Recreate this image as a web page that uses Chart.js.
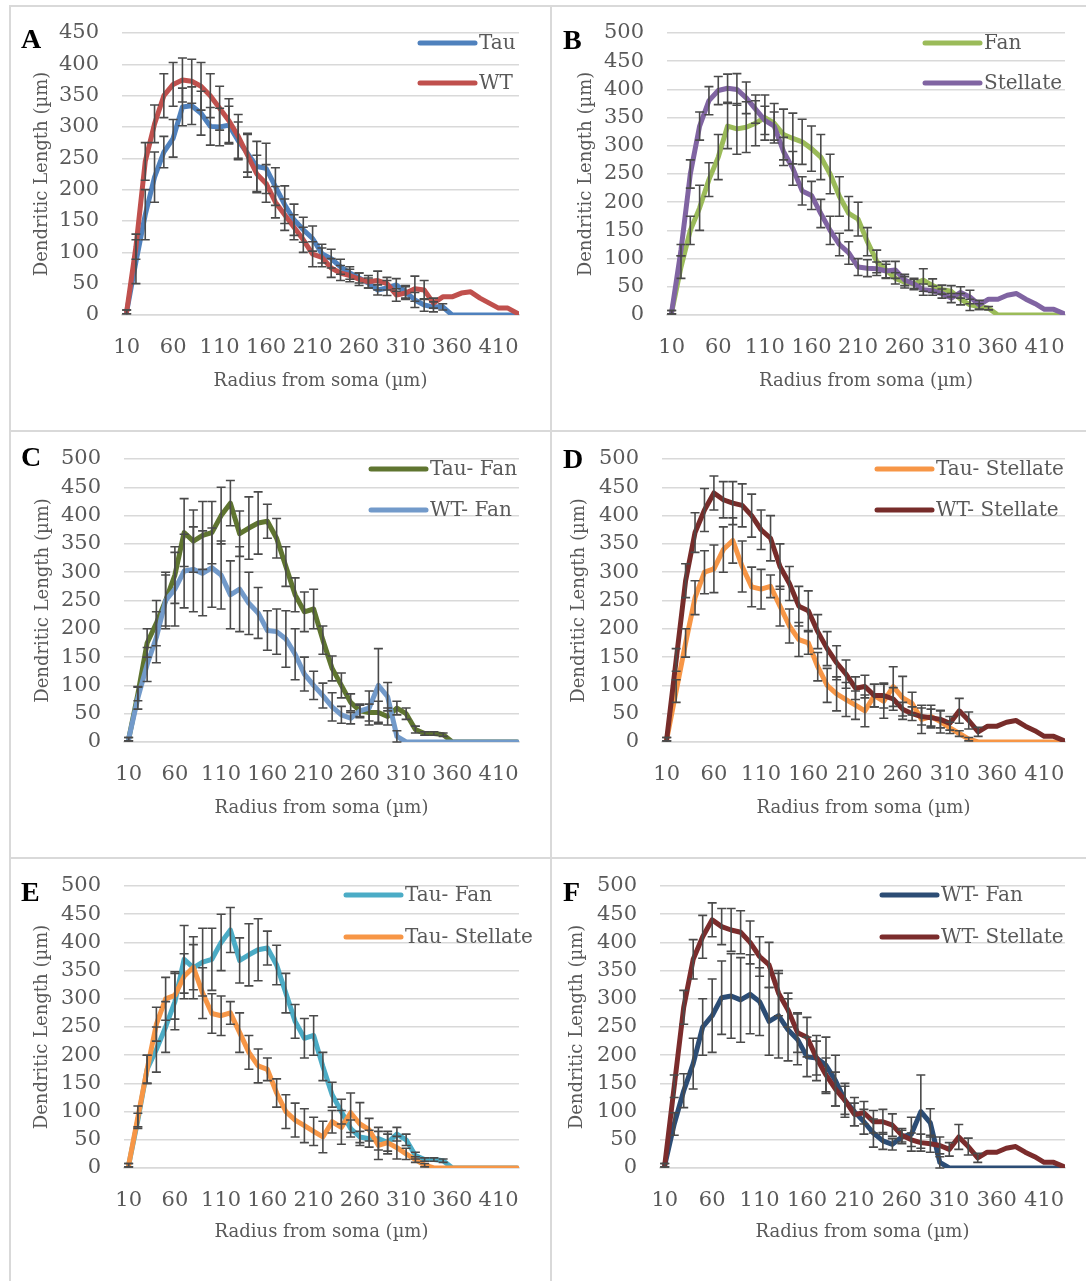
<!DOCTYPE html>
<html>
<head>
<meta charset="utf-8">
<script src="https://cdn.jsdelivr.net/npm/chart.js@4.4.1/dist/chart.umd.min.js"></script>
<style>
body{margin:0;background:#fff;width:1086px;height:1281px;overflow:hidden;position:relative}
.rule{position:absolute;background:#d9d9d9}
.cell{position:absolute}
.cell canvas{position:absolute;left:0;top:0}
.tag{position:absolute;font:bold 28px "Liberation Serif",serif;line-height:28px;color:#000}
</style>
</head>
<body>
<div class="rule" style="left:9px;top:5px;width:1077px;height:2px"></div>
<div class="rule" style="left:9px;top:430px;width:1077px;height:2px"></div>
<div class="rule" style="left:9px;top:857px;width:1077px;height:2px"></div>
<div class="rule" style="left:9px;top:5px;width:2px;height:1276px"></div>
<div class="rule" style="left:550px;top:5px;width:2px;height:1276px"></div>
<script>
// radius from soma (um), one point every 10 um
const radius = [10,20,30,40,50,60,70,80,90,100,110,120,130,140,150,160,170,180,190,200,
  210,220,230,240,250,260,270,280,290,300,310,320,330,340,350,360,370,380,390,400,410,420,430];
const xTickLabels = [10,60,110,160,210,260,310,360,410];

// A: Tau vs WT
const tauA = [5,85,160,220,260,282,332,334,322,301,300,303,278,258,237,234,205,176,152,136,
  122,98,90,77,67,59,51,40,43,48,37,24,16,13,13,0,0,0,0,0,0,0,0];
const tauAErr = [3,35,40,40,25,30,30,30,35,30,30,30,30,30,40,40,30,30,25,20,
  20,15,15,12,10,8,8,8,12,10,10,12,10,8,5,0,0,0,0,0,0,0,0];
const wtA = [5,109,245,305,350,368,375,373,365,350,330,310,285,255,225,210,180,160,140,120,
  97,92,75,67,63,57,53,55,50,32,35,42,40,19,29,29,35,37,27,19,11,11,3];
const wtAErr = [3,20,30,30,35,35,35,35,38,35,35,35,35,35,30,30,25,25,20,20,
  20,15,15,12,10,10,10,15,10,10,10,20,15,8,0,0,0,0,0,0,0,0,0];

// B: Fan vs Stellate
const fanB = [5,85,150,190,240,280,335,330,333,340,350,340,320,313,307,295,280,250,210,180,
  170,130,95,80,65,58,55,62,52,45,42,28,18,15,12,0,0,0,0,0,0,0,0];
const fanBErr = [3,20,25,40,30,40,40,45,45,40,40,35,45,45,40,40,40,35,35,30,
  30,25,20,15,10,10,10,20,12,8,10,10,10,5,3,0,0,0,0,0,0,0,0];
const stellateB = [5,115,250,335,380,398,402,400,385,365,345,335,290,260,220,212,180,150,125,110,
  85,83,82,78,80,62,55,45,43,38,30,40,32,18,28,28,35,38,28,20,10,10,3];
const stellateBErr = [3,10,25,25,25,25,25,28,28,25,25,25,25,30,25,25,25,25,20,20,
  15,15,12,12,15,10,8,10,8,8,8,10,12,8,0,0,0,0,0,0,0,0,0];

// C-F: genotype x cell type
const tauFan = [5,85,175,210,250,295,370,355,365,370,400,422,368,378,387,390,360,310,260,230,
  235,180,130,100,70,55,52,52,45,60,50,22,15,15,13,0,0,0,0,0,0,0,0];
const tauFanErr = [3,12,25,40,45,50,60,55,60,55,50,40,40,55,55,30,35,35,30,35,
  35,25,22,22,15,10,15,20,15,12,10,6,3,3,3,0,0,0,0,0,0,0,0];
const wtFan = [5,78,137,185,250,270,302,305,298,308,295,260,270,245,228,197,195,182,155,120,
  100,82,62,48,42,55,60,100,80,10,0,0,0,0,0,0,0,0,0,0,0,0,0];
const wtFanErr = [3,20,30,45,50,65,65,75,75,70,60,60,75,55,45,35,40,50,45,30,
  25,22,25,15,10,12,30,65,25,10,0,0,0,0,0,0,0,0,0,0,0,0,0];
const tauStellate = [5,90,175,255,300,306,340,356,310,274,270,275,240,205,181,175,133,100,85,75,
  65,55,82,72,98,78,68,40,45,36,25,15,5,0,0,0,0,0,0,0,0,0,0];
const tauStellateErr = [3,20,25,30,38,42,40,40,45,35,35,20,35,30,30,20,25,30,30,30,
  25,28,20,30,35,38,20,25,20,20,10,5,3,0,0,0,0,0,0,0,0,0,0];
const wtStellate = [5,145,285,370,410,440,428,422,418,400,375,360,310,280,240,232,195,165,140,120,
  95,98,82,82,76,58,50,45,43,40,33,55,38,18,28,28,35,38,28,20,10,10,3];
const wtStellateErr = [3,20,30,35,38,30,32,38,38,38,35,40,40,30,35,35,30,30,30,25,
  20,20,20,22,20,12,12,15,15,15,12,22,15,8,0,0,0,0,0,0,0,0,0];

const textColor = '#595959';
const serif = '"DejaVu Serif", serif';

// page coordinates: cell [left, top, width, height], plot area [left, top, right, bottom]
const panels = [
  {tag:'A', tagPos:[21,25], cell:[11,7,539,423], area:[122,33,519,315], yMax:450, yTitleX:43,
   legend:[420,43,83], series:[['Tau',tauA,tauAErr,'#4f81bd'],['WT',wtA,wtAErr,'#c0504d']]},
  {tag:'B', tagPos:[563,26], cell:[552,7,534,423], area:[667,33,1065,315], yMax:500, yTitleX:587,
   legend:[925,43,83], series:[['Fan',fanB,fanBErr,'#9bbb59'],['Stellate',stellateB,stellateBErr,'#8064a2']]},
  {tag:'C', tagPos:[21,443], cell:[11,432,539,425], area:[124,459,519,742], yMax:500, yTitleX:44,
   legend:[371,469,510], series:[['Tau- Fan',tauFan,tauFanErr,'#5f7530'],['WT- Fan',wtFan,wtFanErr,'#729aca']]},
  {tag:'D', tagPos:[563,445], cell:[552,432,534,425], area:[662,459,1065,742], yMax:500, yTitleX:580,
   legend:[877,469,510], series:[['Tau- Stellate',tauStellate,tauStellateErr,'#f79646'],['WT- Stellate',wtStellate,wtStellateErr,'#772c2a']]},
  {tag:'E', tagPos:[21,878], cell:[11,859,539,422], area:[124,886,519,1168], yMax:500, yTitleX:43,
   legend:[346,895,937], series:[['Tau- Fan',tauFan,tauFanErr,'#4bacc6'],['Tau- Stellate',tauStellate,tauStellateErr,'#f79646']]},
  {tag:'F', tagPos:[563,878], cell:[552,859,534,422], area:[660,886,1065,1168], yMax:500, yTitleX:578,
   legend:[882,895,937], series:[['WT- Fan',wtFan,wtFanErr,'#2c4d75'],['WT- Stellate',wtStellate,wtStellateErr,'#7b2c2c']]}
];

// error bars drawn on top of the lines
const errorBars = {
  id: 'errorBars',
  afterDatasetsDraw(chart) {
    const ctx = chart.ctx, xs = chart.scales.x, ys = chart.scales.y;
    ctx.save();
    ctx.strokeStyle = '#4a4a4a';
    ctx.lineWidth = 1.6;
    chart.data.datasets.forEach(ds => {
      ds.errors.forEach((e, i) => {
        if (!e) return;
        const v = ds.data[i].y;
        const x = xs.getPixelForValue(radius[i]);
        const y1 = ys.getPixelForValue(v + e), y2 = ys.getPixelForValue(v - e);
        ctx.beginPath();
        ctx.moveTo(x, y1); ctx.lineTo(x, y2);
        ctx.moveTo(x - 4.5, y1); ctx.lineTo(x + 4.5, y1);
        ctx.moveTo(x - 4.5, y2); ctx.lineTo(x + 4.5, y2);
        ctx.stroke();
      });
    });
    ctx.restore();
  }
};

// legend inside the plot, Excel style
const sideLegend = {
  id: 'sideLegend',
  afterDraw(chart, args, opts) {
    const ctx = chart.ctx;
    ctx.save();
    chart.data.datasets.forEach((ds, k) => {
      const y = opts.ys[k];
      ctx.strokeStyle = ds.borderColor;
      ctx.lineWidth = 5;
      ctx.lineCap = 'round';
      ctx.beginPath();
      ctx.moveTo(opts.x, y); ctx.lineTo(opts.x + 55, y);
      ctx.stroke();
      ctx.fillStyle = textColor;
      ctx.font = '20px ' + serif;
      ctx.textBaseline = 'middle';
      ctx.fillText(ds.label, opts.x + 59, y + 1);
    });
    ctx.restore();
  }
};

panels.forEach(p => {
  const [cl, ct, cw, ch] = p.cell;
  const [al, at, ar, ab] = p.area;
  const cell = document.createElement('div');
  cell.className = 'cell';
  cell.style.cssText = `left:${cl}px;top:${ct}px;width:${cw}px;height:${ch}px`;
  const canvas = document.createElement('canvas');
  canvas.width = cw; canvas.height = ch;
  canvas.style.width = cw + 'px'; canvas.style.height = ch + 'px';
  cell.appendChild(canvas);
  document.body.appendChild(cell);

  const tag = document.createElement('div');
  tag.className = 'tag';
  tag.textContent = p.tag;
  tag.style.left = p.tagPos[0] + 'px';
  tag.style.top = p.tagPos[1] + 'px';
  document.body.appendChild(tag);

  const datasets = p.series.map(([label, vals, errs, color], k) => ({
    label: label,
    data: radius.map((r, i) => ({x: r, y: vals[i]})),
    errors: errs,
    borderColor: color,
    backgroundColor: color,
    borderWidth: 5,
    borderJoinStyle: 'round',
    borderCapStyle: 'round',
    pointRadius: 0,
    tension: 0,
    fill: false,
    order: 1 - k
  }));

  new Chart(canvas.getContext('2d'), {
    type: 'line',
    data: {datasets},
    plugins: [errorBars, sideLegend],
    options: {
      responsive: false,
      animation: false,
      events: [],
      layout: {padding: {left: 0, top: at - ct, right: cl + cw - ar, bottom: 0}},
      plugins: {
        legend: {display: false},
        tooltip: {enabled: false},
        sideLegend: {x: p.legend[0] - cl, ys: [p.legend[1] - ct, p.legend[2] - ct]}
      },
      scales: {
        x: {
          type: 'linear',
          min: 5,
          max: 432,
          afterBuildTicks: s => { s.ticks = xTickLabels.map(v => ({value: v})); },
          afterFit: s => { s.height = ct + ch - ab; s.paddingLeft = 0; s.paddingRight = 0; },
          grid: {display: false},
          border: {color: '#d9d9d9', width: 1.5},
          ticks: {autoSkip: false, maxRotation: 0, padding: 12, color: textColor, font: {family: serif, size: 21}},
          title: {display: true, text: 'Radius from soma (µm)', color: textColor,
                  font: {family: serif, size: 18}, padding: {top: 0, bottom: 38}}
        },
        y: {
          min: 0,
          max: p.yMax,
          afterFit: s => { s.width = al - cl; s.paddingTop = 0; s.paddingBottom = 0; },
          grid: {color: '#d9d9d9', lineWidth: 1.5, drawTicks: false},
          border: {display: false},
          ticks: {stepSize: 50, padding: 23, color: textColor, font: {family: serif, size: 21}},
          title: {display: true, text: 'Dendritic Length (µm)', color: textColor,
                  font: {family: serif, size: 18}, padding: {top: p.yTitleX - cl - 11, bottom: 0}}
        }
      }
    }
  });
});
</script>
</body>
</html>
